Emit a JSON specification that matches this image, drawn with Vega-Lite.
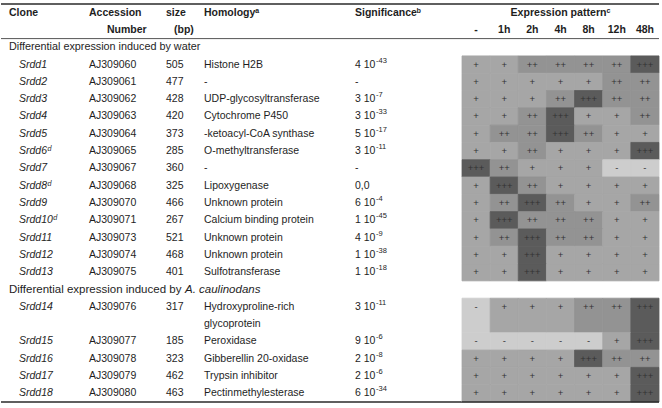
{
  "$schema": "https://vega.github.io/schema/vega-lite/v6.json",
  "background": "white",
  "padding": {"left": 0, "top": 3, "right": 4, "bottom": 6},
  "spacing": 0,
  "bounds": "flush",
  "config": {
    "view": {"stroke": null},
    "font": "Liberation Sans",
    "text": {"font": "Liberation Sans", "fontSize": 10.5, "color": "#1e1e1e", "align": "left", "baseline": "middle"}
  },
  "datasets": {
    "genes": [
      {"id": "Srdd1", "clone": "Srdd1", "acc": "AJ309060", "size": 505, "homology": "Histone H2B", "sig": "4 10", "exp": "-43", "spanTo": "Srdd1", "ctrl": "+", "1h": "+", "2h": "++", "4h": "++", "8h": "++", "12h": "++", "48h": "+++"},
      {"id": "Srdd2", "clone": "Srdd2", "acc": "AJ309061", "size": 477, "homology": "-", "sig": "-", "exp": "", "spanTo": "Srdd2", "ctrl": "+", "1h": "+", "2h": "+", "4h": "+", "8h": "+", "12h": "++", "48h": "++"},
      {"id": "Srdd3", "clone": "Srdd3", "acc": "AJ309062", "size": 428, "homology": "UDP-glycosyltransferase", "sig": "3 10", "exp": "-7", "spanTo": "Srdd3", "ctrl": "+", "1h": "+", "2h": "+", "4h": "++", "8h": "+++", "12h": "++", "48h": "++"},
      {"id": "Srdd4", "clone": "Srdd4", "acc": "AJ309063", "size": 420, "homology": "Cytochrome P450", "sig": "3 10", "exp": "-33", "spanTo": "Srdd4", "ctrl": "+", "1h": "+", "2h": "++", "4h": "+++", "8h": "+", "12h": "+", "48h": "++"},
      {"id": "Srdd5", "clone": "Srdd5", "acc": "AJ309064", "size": 373, "homology": "-ketoacyl-CoA synthase", "sig": "5 10", "exp": "-17", "spanTo": "Srdd5", "ctrl": "+", "1h": "++", "2h": "++", "4h": "+++", "8h": "++", "12h": "+", "48h": "+"},
      {"id": "Srdd6", "clone": "Srdd6ᵈ", "acc": "AJ309065", "size": 285, "homology": "O-methyltransferase", "sig": "3 10", "exp": "-11", "spanTo": "Srdd6", "ctrl": "+", "1h": "+", "2h": "++", "4h": "+", "8h": "+", "12h": "+", "48h": "+++"},
      {"id": "Srdd7", "clone": "Srdd7", "acc": "AJ309067", "size": 360, "homology": "-", "sig": "-", "exp": "", "spanTo": "Srdd7", "ctrl": "+++", "1h": "++", "2h": "+", "4h": "+", "8h": "+", "12h": "-", "48h": "-"},
      {"id": "Srdd8", "clone": "Srdd8ᵈ", "acc": "AJ309068", "size": 325, "homology": "Lipoxygenase", "sig": "0,0", "exp": "", "spanTo": "Srdd8", "ctrl": "+", "1h": "+++", "2h": "++", "4h": "+", "8h": "+", "12h": "+", "48h": "+"},
      {"id": "Srdd9", "clone": "Srdd9", "acc": "AJ309070", "size": 466, "homology": "Unknown protein", "sig": "6 10", "exp": "-4", "spanTo": "Srdd9", "ctrl": "+", "1h": "++", "2h": "+++", "4h": "++", "8h": "+", "12h": "+", "48h": "++"},
      {"id": "Srdd10", "clone": "Srdd10ᵈ", "acc": "AJ309071", "size": 267, "homology": "Calcium binding protein", "sig": "1 10", "exp": "-45", "spanTo": "Srdd10", "ctrl": "+", "1h": "+++", "2h": "++", "4h": "++", "8h": "++", "12h": "+", "48h": "+"},
      {"id": "Srdd11", "clone": "Srdd11", "acc": "AJ309073", "size": 521, "homology": "Unknown protein", "sig": "4 10", "exp": "-9", "spanTo": "Srdd11", "ctrl": "+", "1h": "++", "2h": "+++", "4h": "++", "8h": "++", "12h": "+", "48h": "+"},
      {"id": "Srdd12", "clone": "Srdd12", "acc": "AJ309074", "size": 468, "homology": "Unknown protein", "sig": "1 10", "exp": "-38", "spanTo": "Srdd12", "ctrl": "+", "1h": "+", "2h": "+++", "4h": "+", "8h": "+", "12h": "+", "48h": "+"},
      {"id": "Srdd13", "clone": "Srdd13", "acc": "AJ309075", "size": 401, "homology": "Sulfotransferase", "sig": "1 10", "exp": "-18", "spanTo": "Srdd13", "ctrl": "+", "1h": "+", "2h": "+++", "4h": "+", "8h": "+", "12h": "+", "48h": "+"},
      {"id": "Srdd14", "clone": "Srdd14", "acc": "AJ309076", "size": 317, "homology": "Hydroxyproline-rich", "homology2": "glycoprotein", "sig": "3 10", "exp": "-11", "spanTo": "Srdd14b", "ctrl": "-", "1h": "+", "2h": "+", "4h": "+", "8h": "++", "12h": "++", "48h": "+++"},
      {"id": "Srdd15", "clone": "Srdd15", "acc": "AJ309077", "size": 185, "homology": "Peroxidase", "sig": "9 10", "exp": "-6", "spanTo": "Srdd15", "ctrl": "-", "1h": "-", "2h": "-", "4h": "-", "8h": "-", "12h": "+", "48h": "+++"},
      {"id": "Srdd16", "clone": "Srdd16", "acc": "AJ309078", "size": 323, "homology": "Gibberellin 20-oxidase", "sig": "2 10", "exp": "-8", "spanTo": "Srdd16", "ctrl": "+", "1h": "+", "2h": "+", "4h": "+", "8h": "+++", "12h": "++", "48h": "++"},
      {"id": "Srdd17", "clone": "Srdd17", "acc": "AJ309079", "size": 462, "homology": "Trypsin inhibitor", "sig": "2 10", "exp": "-6", "spanTo": "Srdd17", "ctrl": "+", "1h": "+", "2h": "+", "4h": "+", "8h": "+", "12h": "+", "48h": "+++"},
      {"id": "Srdd18", "clone": "Srdd18", "acc": "AJ309080", "size": 463, "homology": "Pectinmethylesterase", "sig": "6 10", "exp": "-34", "spanTo": "Srdd18", "ctrl": "+", "1h": "+", "2h": "+", "4h": "+", "8h": "+", "12h": "+", "48h": "+++"}
    ],
    "groups": [
      {"line": "g1", "text": "Differential expression induced by water"},
      {"line": "g2", "text": "Differential expression induced by ", "species": "A. caulinodans"}
    ],
    "times": [
      {"time": "ctrl", "label": "-"},
      {"time": "1h", "label": "1h"},
      {"time": "2h", "label": "2h"},
      {"time": "4h", "label": "4h"},
      {"time": "8h", "label": "8h"},
      {"time": "12h", "label": "12h"},
      {"time": "48h", "label": "48h"}
    ]
  },
  "hconcat": [
    {
      "width": 88, "height": 398,
      "layer": [
        {"data": {"values": [{}]}, "mark": {"type": "text", "fontWeight": "bold", "dx": 8},
         "encoding": {"x": {"datum": "c", "type": "nominal", "bandPosition": 0, "scale": {"type": "band", "paddingInner": 0, "paddingOuter": 0}, "axis": null},
                      "y": {"datum": "h1", "type": "nominal", "scale": {"domain": ["h1","h2","g1","Srdd1","Srdd2","Srdd3","Srdd4","Srdd5","Srdd6","Srdd7","Srdd8","Srdd9","Srdd10","Srdd11","Srdd12","Srdd13","g2","Srdd14","Srdd14b","Srdd15","Srdd16","Srdd17","Srdd18"], "type": "band", "paddingInner": 0, "paddingOuter": 0}, "axis": null},
                      "text": {"value": "Clone"}}},
        {"data": {"name": "groups"}, "transform": [{"filter": "datum.line === 'g1'"}], "mark": {"type": "text", "dx": 8, "fontSize": 10.8},
         "encoding": {"x": {"datum": "c", "type": "nominal", "bandPosition": 0, "scale": {"type": "band", "paddingInner": 0, "paddingOuter": 0}, "axis": null},
                      "y": {"field": "line", "type": "nominal", "scale": {"domain": ["h1","h2","g1","Srdd1","Srdd2","Srdd3","Srdd4","Srdd5","Srdd6","Srdd7","Srdd8","Srdd9","Srdd10","Srdd11","Srdd12","Srdd13","g2","Srdd14","Srdd14b","Srdd15","Srdd16","Srdd17","Srdd18"], "type": "band", "paddingInner": 0, "paddingOuter": 0}, "axis": null},
                      "text": {"field": "text"}}},
        {"data": {"name": "groups"}, "transform": [{"filter": "datum.line === 'g2'"}], "mark": {"type": "text", "dx": 8, "fontSize": 11.5},
         "encoding": {"x": {"datum": "c", "type": "nominal", "bandPosition": 0, "scale": {"type": "band", "paddingInner": 0, "paddingOuter": 0}, "axis": null},
                      "y": {"field": "line", "type": "nominal", "scale": {"domain": ["h1","h2","g1","Srdd1","Srdd2","Srdd3","Srdd4","Srdd5","Srdd6","Srdd7","Srdd8","Srdd9","Srdd10","Srdd11","Srdd12","Srdd13","g2","Srdd14","Srdd14b","Srdd15","Srdd16","Srdd17","Srdd18"], "type": "band", "paddingInner": 0, "paddingOuter": 0}, "axis": null},
                      "text": {"field": "text"}}},
        {"data": {"name": "groups"}, "transform": [{"filter": "datum.line === 'g2'"}], "mark": {"type": "text", "dx": 184, "fontSize": 11.5, "fontStyle": "italic"},
         "encoding": {"x": {"datum": "c", "type": "nominal", "bandPosition": 0, "scale": {"type": "band", "paddingInner": 0, "paddingOuter": 0}, "axis": null},
                      "y": {"field": "line", "type": "nominal", "scale": {"domain": ["h1","h2","g1","Srdd1","Srdd2","Srdd3","Srdd4","Srdd5","Srdd6","Srdd7","Srdd8","Srdd9","Srdd10","Srdd11","Srdd12","Srdd13","g2","Srdd14","Srdd14b","Srdd15","Srdd16","Srdd17","Srdd18"], "type": "band", "paddingInner": 0, "paddingOuter": 0}, "axis": null},
                      "text": {"field": "species"}}},
        {"data": {"name": "genes"}, "mark": {"type": "text", "dx": 18, "fontStyle": "italic"},
         "encoding": {"x": {"datum": "c", "type": "nominal", "bandPosition": 0, "scale": {"type": "band", "paddingInner": 0, "paddingOuter": 0}, "axis": null},
                      "y": {"field": "id", "type": "nominal", "scale": {"domain": ["h1","h2","g1","Srdd1","Srdd2","Srdd3","Srdd4","Srdd5","Srdd6","Srdd7","Srdd8","Srdd9","Srdd10","Srdd11","Srdd12","Srdd13","g2","Srdd14","Srdd14b","Srdd15","Srdd16","Srdd17","Srdd18"], "type": "band", "paddingInner": 0, "paddingOuter": 0}, "axis": null},
                      "text": {"field": "clone"}}},
        {"data": {"values": [{}]}, "mark": {"type": "rule", "color": "#2a2a2a", "strokeWidth": 1.6},
         "encoding": {"y": {"datum": "h1", "type": "nominal", "bandPosition": 0, "scale": {"domain": ["h1","h2","g1","Srdd1","Srdd2","Srdd3","Srdd4","Srdd5","Srdd6","Srdd7","Srdd8","Srdd9","Srdd10","Srdd11","Srdd12","Srdd13","g2","Srdd14","Srdd14b","Srdd15","Srdd16","Srdd17","Srdd18"], "type": "band", "paddingInner": 0, "paddingOuter": 0}, "axis": null}}},
        {"data": {"values": [{}]}, "mark": {"type": "rule", "color": "#555555", "strokeWidth": 1},
         "encoding": {"y": {"datum": "g1", "type": "nominal", "bandPosition": 0, "scale": {"domain": ["h1","h2","g1","Srdd1","Srdd2","Srdd3","Srdd4","Srdd5","Srdd6","Srdd7","Srdd8","Srdd9","Srdd10","Srdd11","Srdd12","Srdd13","g2","Srdd14","Srdd14b","Srdd15","Srdd16","Srdd17","Srdd18"], "type": "band", "paddingInner": 0, "paddingOuter": 0}, "axis": null}}},
        {"data": {"values": [{}]}, "mark": {"type": "rule", "color": "#2a2a2a", "strokeWidth": 1.6},
         "encoding": {"y": {"datum": "Srdd18", "type": "nominal", "bandPosition": 1, "scale": {"domain": ["h1","h2","g1","Srdd1","Srdd2","Srdd3","Srdd4","Srdd5","Srdd6","Srdd7","Srdd8","Srdd9","Srdd10","Srdd11","Srdd12","Srdd13","g2","Srdd14","Srdd14b","Srdd15","Srdd16","Srdd17","Srdd18"], "type": "band", "paddingInner": 0, "paddingOuter": 0}, "axis": null}}}
      ]
    },
    {
      "width": 77, "height": 398,
      "layer": [
        {"data": {"values": [{}]}, "mark": {"type": "text", "fontWeight": "bold"},
         "encoding": {"x": {"datum": "c", "type": "nominal", "bandPosition": 0, "scale": {"type": "band", "paddingInner": 0, "paddingOuter": 0}, "axis": null},
                      "y": {"datum": "h1", "type": "nominal", "scale": {"domain": ["h1","h2","g1","Srdd1","Srdd2","Srdd3","Srdd4","Srdd5","Srdd6","Srdd7","Srdd8","Srdd9","Srdd10","Srdd11","Srdd12","Srdd13","g2","Srdd14","Srdd14b","Srdd15","Srdd16","Srdd17","Srdd18"], "type": "band", "paddingInner": 0, "paddingOuter": 0}, "axis": null},
                      "text": {"value": "Accession"}}},
        {"data": {"values": [{}]}, "mark": {"type": "text", "fontWeight": "bold", "dx": 18},
         "encoding": {"x": {"datum": "c", "type": "nominal", "bandPosition": 0, "scale": {"type": "band", "paddingInner": 0, "paddingOuter": 0}, "axis": null},
                      "y": {"datum": "h2", "type": "nominal", "scale": {"domain": ["h1","h2","g1","Srdd1","Srdd2","Srdd3","Srdd4","Srdd5","Srdd6","Srdd7","Srdd8","Srdd9","Srdd10","Srdd11","Srdd12","Srdd13","g2","Srdd14","Srdd14b","Srdd15","Srdd16","Srdd17","Srdd18"], "type": "band", "paddingInner": 0, "paddingOuter": 0}, "axis": null},
                      "text": {"value": "Number"}}},
        {"data": {"name": "genes"}, "mark": {"type": "text"},
         "encoding": {"x": {"datum": "c", "type": "nominal", "bandPosition": 0, "scale": {"type": "band", "paddingInner": 0, "paddingOuter": 0}, "axis": null},
                      "y": {"field": "id", "type": "nominal", "scale": {"domain": ["h1","h2","g1","Srdd1","Srdd2","Srdd3","Srdd4","Srdd5","Srdd6","Srdd7","Srdd8","Srdd9","Srdd10","Srdd11","Srdd12","Srdd13","g2","Srdd14","Srdd14b","Srdd15","Srdd16","Srdd17","Srdd18"], "type": "band", "paddingInner": 0, "paddingOuter": 0}, "axis": null},
                      "text": {"field": "acc"}}},
        {"data": {"values": [{}]}, "mark": {"type": "rule", "color": "#2a2a2a", "strokeWidth": 1.6},
         "encoding": {"y": {"datum": "h1", "type": "nominal", "bandPosition": 0, "scale": {"domain": ["h1","h2","g1","Srdd1","Srdd2","Srdd3","Srdd4","Srdd5","Srdd6","Srdd7","Srdd8","Srdd9","Srdd10","Srdd11","Srdd12","Srdd13","g2","Srdd14","Srdd14b","Srdd15","Srdd16","Srdd17","Srdd18"], "type": "band", "paddingInner": 0, "paddingOuter": 0}, "axis": null}}},
        {"data": {"values": [{}]}, "mark": {"type": "rule", "color": "#555555", "strokeWidth": 1},
         "encoding": {"y": {"datum": "g1", "type": "nominal", "bandPosition": 0, "scale": {"domain": ["h1","h2","g1","Srdd1","Srdd2","Srdd3","Srdd4","Srdd5","Srdd6","Srdd7","Srdd8","Srdd9","Srdd10","Srdd11","Srdd12","Srdd13","g2","Srdd14","Srdd14b","Srdd15","Srdd16","Srdd17","Srdd18"], "type": "band", "paddingInner": 0, "paddingOuter": 0}, "axis": null}}},
        {"data": {"values": [{}]}, "mark": {"type": "rule", "color": "#2a2a2a", "strokeWidth": 1.6},
         "encoding": {"y": {"datum": "Srdd18", "type": "nominal", "bandPosition": 1, "scale": {"domain": ["h1","h2","g1","Srdd1","Srdd2","Srdd3","Srdd4","Srdd5","Srdd6","Srdd7","Srdd8","Srdd9","Srdd10","Srdd11","Srdd12","Srdd13","g2","Srdd14","Srdd14b","Srdd15","Srdd16","Srdd17","Srdd18"], "type": "band", "paddingInner": 0, "paddingOuter": 0}, "axis": null}}}
      ]
    },
    {
      "width": 38, "height": 398,
      "layer": [
        {"data": {"values": [{}]}, "mark": {"type": "text", "fontWeight": "bold"},
         "encoding": {"x": {"datum": "c", "type": "nominal", "bandPosition": 0, "scale": {"type": "band", "paddingInner": 0, "paddingOuter": 0}, "axis": null},
                      "y": {"datum": "h1", "type": "nominal", "scale": {"domain": ["h1","h2","g1","Srdd1","Srdd2","Srdd3","Srdd4","Srdd5","Srdd6","Srdd7","Srdd8","Srdd9","Srdd10","Srdd11","Srdd12","Srdd13","g2","Srdd14","Srdd14b","Srdd15","Srdd16","Srdd17","Srdd18"], "type": "band", "paddingInner": 0, "paddingOuter": 0}, "axis": null},
                      "text": {"value": "size"}}},
        {"data": {"values": [{}]}, "mark": {"type": "text", "fontWeight": "bold", "dx": 8},
         "encoding": {"x": {"datum": "c", "type": "nominal", "bandPosition": 0, "scale": {"type": "band", "paddingInner": 0, "paddingOuter": 0}, "axis": null},
                      "y": {"datum": "h2", "type": "nominal", "scale": {"domain": ["h1","h2","g1","Srdd1","Srdd2","Srdd3","Srdd4","Srdd5","Srdd6","Srdd7","Srdd8","Srdd9","Srdd10","Srdd11","Srdd12","Srdd13","g2","Srdd14","Srdd14b","Srdd15","Srdd16","Srdd17","Srdd18"], "type": "band", "paddingInner": 0, "paddingOuter": 0}, "axis": null},
                      "text": {"value": "(bp)"}}},
        {"data": {"name": "genes"}, "mark": {"type": "text"},
         "encoding": {"x": {"datum": "c", "type": "nominal", "bandPosition": 0, "scale": {"type": "band", "paddingInner": 0, "paddingOuter": 0}, "axis": null},
                      "y": {"field": "id", "type": "nominal", "scale": {"domain": ["h1","h2","g1","Srdd1","Srdd2","Srdd3","Srdd4","Srdd5","Srdd6","Srdd7","Srdd8","Srdd9","Srdd10","Srdd11","Srdd12","Srdd13","g2","Srdd14","Srdd14b","Srdd15","Srdd16","Srdd17","Srdd18"], "type": "band", "paddingInner": 0, "paddingOuter": 0}, "axis": null},
                      "text": {"field": "size"}}},
        {"data": {"values": [{}]}, "mark": {"type": "rule", "color": "#2a2a2a", "strokeWidth": 1.6},
         "encoding": {"y": {"datum": "h1", "type": "nominal", "bandPosition": 0, "scale": {"domain": ["h1","h2","g1","Srdd1","Srdd2","Srdd3","Srdd4","Srdd5","Srdd6","Srdd7","Srdd8","Srdd9","Srdd10","Srdd11","Srdd12","Srdd13","g2","Srdd14","Srdd14b","Srdd15","Srdd16","Srdd17","Srdd18"], "type": "band", "paddingInner": 0, "paddingOuter": 0}, "axis": null}}},
        {"data": {"values": [{}]}, "mark": {"type": "rule", "color": "#555555", "strokeWidth": 1},
         "encoding": {"y": {"datum": "g1", "type": "nominal", "bandPosition": 0, "scale": {"domain": ["h1","h2","g1","Srdd1","Srdd2","Srdd3","Srdd4","Srdd5","Srdd6","Srdd7","Srdd8","Srdd9","Srdd10","Srdd11","Srdd12","Srdd13","g2","Srdd14","Srdd14b","Srdd15","Srdd16","Srdd17","Srdd18"], "type": "band", "paddingInner": 0, "paddingOuter": 0}, "axis": null}}},
        {"data": {"values": [{}]}, "mark": {"type": "rule", "color": "#2a2a2a", "strokeWidth": 1.6},
         "encoding": {"y": {"datum": "Srdd18", "type": "nominal", "bandPosition": 1, "scale": {"domain": ["h1","h2","g1","Srdd1","Srdd2","Srdd3","Srdd4","Srdd5","Srdd6","Srdd7","Srdd8","Srdd9","Srdd10","Srdd11","Srdd12","Srdd13","g2","Srdd14","Srdd14b","Srdd15","Srdd16","Srdd17","Srdd18"], "type": "band", "paddingInner": 0, "paddingOuter": 0}, "axis": null}}}
      ]
    },
    {
      "width": 151, "height": 398,
      "layer": [
        {"data": {"values": [{}]}, "mark": {"type": "text", "fontWeight": "bold"},
         "encoding": {"x": {"datum": "c", "type": "nominal", "bandPosition": 0, "scale": {"type": "band", "paddingInner": 0, "paddingOuter": 0}, "axis": null},
                      "y": {"datum": "h1", "type": "nominal", "scale": {"domain": ["h1","h2","g1","Srdd1","Srdd2","Srdd3","Srdd4","Srdd5","Srdd6","Srdd7","Srdd8","Srdd9","Srdd10","Srdd11","Srdd12","Srdd13","g2","Srdd14","Srdd14b","Srdd15","Srdd16","Srdd17","Srdd18"], "type": "band", "paddingInner": 0, "paddingOuter": 0}, "axis": null},
                      "text": {"value": "Homologyᵃ"}}},
        {"data": {"name": "genes"}, "mark": {"type": "text"},
         "encoding": {"x": {"datum": "c", "type": "nominal", "bandPosition": 0, "scale": {"type": "band", "paddingInner": 0, "paddingOuter": 0}, "axis": null},
                      "y": {"field": "id", "type": "nominal", "scale": {"domain": ["h1","h2","g1","Srdd1","Srdd2","Srdd3","Srdd4","Srdd5","Srdd6","Srdd7","Srdd8","Srdd9","Srdd10","Srdd11","Srdd12","Srdd13","g2","Srdd14","Srdd14b","Srdd15","Srdd16","Srdd17","Srdd18"], "type": "band", "paddingInner": 0, "paddingOuter": 0}, "axis": null},
                      "text": {"field": "homology"}}},
        {"data": {"name": "genes"}, "transform": [{"filter": "isValid(datum.homology2)"}], "mark": {"type": "text"},
         "encoding": {"x": {"datum": "c", "type": "nominal", "bandPosition": 0, "scale": {"type": "band", "paddingInner": 0, "paddingOuter": 0}, "axis": null},
                      "y": {"field": "spanTo", "type": "nominal", "scale": {"domain": ["h1","h2","g1","Srdd1","Srdd2","Srdd3","Srdd4","Srdd5","Srdd6","Srdd7","Srdd8","Srdd9","Srdd10","Srdd11","Srdd12","Srdd13","g2","Srdd14","Srdd14b","Srdd15","Srdd16","Srdd17","Srdd18"], "type": "band", "paddingInner": 0, "paddingOuter": 0}, "axis": null},
                      "text": {"field": "homology2"}}},
        {"data": {"values": [{}]}, "mark": {"type": "rule", "color": "#2a2a2a", "strokeWidth": 1.6},
         "encoding": {"y": {"datum": "h1", "type": "nominal", "bandPosition": 0, "scale": {"domain": ["h1","h2","g1","Srdd1","Srdd2","Srdd3","Srdd4","Srdd5","Srdd6","Srdd7","Srdd8","Srdd9","Srdd10","Srdd11","Srdd12","Srdd13","g2","Srdd14","Srdd14b","Srdd15","Srdd16","Srdd17","Srdd18"], "type": "band", "paddingInner": 0, "paddingOuter": 0}, "axis": null}}},
        {"data": {"values": [{}]}, "mark": {"type": "rule", "color": "#555555", "strokeWidth": 1},
         "encoding": {"y": {"datum": "g1", "type": "nominal", "bandPosition": 0, "scale": {"domain": ["h1","h2","g1","Srdd1","Srdd2","Srdd3","Srdd4","Srdd5","Srdd6","Srdd7","Srdd8","Srdd9","Srdd10","Srdd11","Srdd12","Srdd13","g2","Srdd14","Srdd14b","Srdd15","Srdd16","Srdd17","Srdd18"], "type": "band", "paddingInner": 0, "paddingOuter": 0}, "axis": null}}},
        {"data": {"values": [{}]}, "mark": {"type": "rule", "color": "#2a2a2a", "strokeWidth": 1.6},
         "encoding": {"y": {"datum": "Srdd18", "type": "nominal", "bandPosition": 1, "scale": {"domain": ["h1","h2","g1","Srdd1","Srdd2","Srdd3","Srdd4","Srdd5","Srdd6","Srdd7","Srdd8","Srdd9","Srdd10","Srdd11","Srdd12","Srdd13","g2","Srdd14","Srdd14b","Srdd15","Srdd16","Srdd17","Srdd18"], "type": "band", "paddingInner": 0, "paddingOuter": 0}, "axis": null}}}
      ]
    },
    {
      "width": 107, "height": 398,
      "layer": [
        {"data": {"values": [{}]}, "mark": {"type": "text", "fontWeight": "bold"},
         "encoding": {"x": {"datum": "c", "type": "nominal", "bandPosition": 0, "scale": {"type": "band", "paddingInner": 0, "paddingOuter": 0}, "axis": null},
                      "y": {"datum": "h1", "type": "nominal", "scale": {"domain": ["h1","h2","g1","Srdd1","Srdd2","Srdd3","Srdd4","Srdd5","Srdd6","Srdd7","Srdd8","Srdd9","Srdd10","Srdd11","Srdd12","Srdd13","g2","Srdd14","Srdd14b","Srdd15","Srdd16","Srdd17","Srdd18"], "type": "band", "paddingInner": 0, "paddingOuter": 0}, "axis": null},
                      "text": {"value": "Significanceᵇ"}}},
        {"data": {"name": "genes"}, "mark": {"type": "text"},
         "encoding": {"x": {"datum": "c", "type": "nominal", "bandPosition": 0, "scale": {"type": "band", "paddingInner": 0, "paddingOuter": 0}, "axis": null},
                      "y": {"field": "id", "type": "nominal", "scale": {"domain": ["h1","h2","g1","Srdd1","Srdd2","Srdd3","Srdd4","Srdd5","Srdd6","Srdd7","Srdd8","Srdd9","Srdd10","Srdd11","Srdd12","Srdd13","g2","Srdd14","Srdd14b","Srdd15","Srdd16","Srdd17","Srdd18"], "type": "band", "paddingInner": 0, "paddingOuter": 0}, "axis": null},
                      "text": {"field": "sig"}}},
        {"data": {"name": "genes"}, "mark": {"type": "text", "dx": 21, "dy": -4, "fontSize": 7.5},
         "encoding": {"x": {"datum": "c", "type": "nominal", "bandPosition": 0, "scale": {"type": "band", "paddingInner": 0, "paddingOuter": 0}, "axis": null},
                      "y": {"field": "id", "type": "nominal", "scale": {"domain": ["h1","h2","g1","Srdd1","Srdd2","Srdd3","Srdd4","Srdd5","Srdd6","Srdd7","Srdd8","Srdd9","Srdd10","Srdd11","Srdd12","Srdd13","g2","Srdd14","Srdd14b","Srdd15","Srdd16","Srdd17","Srdd18"], "type": "band", "paddingInner": 0, "paddingOuter": 0}, "axis": null},
                      "text": {"field": "exp"}}},
        {"data": {"values": [{}]}, "mark": {"type": "rule", "color": "#2a2a2a", "strokeWidth": 1.6},
         "encoding": {"y": {"datum": "h1", "type": "nominal", "bandPosition": 0, "scale": {"domain": ["h1","h2","g1","Srdd1","Srdd2","Srdd3","Srdd4","Srdd5","Srdd6","Srdd7","Srdd8","Srdd9","Srdd10","Srdd11","Srdd12","Srdd13","g2","Srdd14","Srdd14b","Srdd15","Srdd16","Srdd17","Srdd18"], "type": "band", "paddingInner": 0, "paddingOuter": 0}, "axis": null}}},
        {"data": {"values": [{}]}, "mark": {"type": "rule", "color": "#555555", "strokeWidth": 1},
         "encoding": {"y": {"datum": "g1", "type": "nominal", "bandPosition": 0, "scale": {"domain": ["h1","h2","g1","Srdd1","Srdd2","Srdd3","Srdd4","Srdd5","Srdd6","Srdd7","Srdd8","Srdd9","Srdd10","Srdd11","Srdd12","Srdd13","g2","Srdd14","Srdd14b","Srdd15","Srdd16","Srdd17","Srdd18"], "type": "band", "paddingInner": 0, "paddingOuter": 0}, "axis": null}}},
        {"data": {"values": [{}]}, "mark": {"type": "rule", "color": "#2a2a2a", "strokeWidth": 1.6},
         "encoding": {"y": {"datum": "Srdd18", "type": "nominal", "bandPosition": 1, "scale": {"domain": ["h1","h2","g1","Srdd1","Srdd2","Srdd3","Srdd4","Srdd5","Srdd6","Srdd7","Srdd8","Srdd9","Srdd10","Srdd11","Srdd12","Srdd13","g2","Srdd14","Srdd14b","Srdd15","Srdd16","Srdd17","Srdd18"], "type": "band", "paddingInner": 0, "paddingOuter": 0}, "axis": null}}}
      ]
    },
    {
      "width": 197, "height": 398,
      "layer": [
        {"data": {"name": "genes"},
         "transform": [{"fold": ["ctrl", "1h", "2h", "4h", "8h", "12h", "48h"], "as": ["time", "level"]}],
         "mark": {"type": "rect", "strokeWidth": 0.8},
         "encoding": {"x": {"field": "time", "type": "nominal", "scale": {"type": "band", "domain": ["ctrl", "1h", "2h", "4h", "8h", "12h", "48h"], "paddingInner": 0, "paddingOuter": 0}, "axis": null},
                      "y": {"field": "id", "type": "nominal", "bandPosition": 0, "scale": {"domain": ["h1","h2","g1","Srdd1","Srdd2","Srdd3","Srdd4","Srdd5","Srdd6","Srdd7","Srdd8","Srdd9","Srdd10","Srdd11","Srdd12","Srdd13","g2","Srdd14","Srdd14b","Srdd15","Srdd16","Srdd17","Srdd18"], "type": "band", "paddingInner": 0, "paddingOuter": 0}, "axis": null},
                      "y2": {"field": "spanTo", "bandPosition": 1},
                      "color": {"field": "level", "type": "nominal", "scale": {"domain": ["-", "+", "++", "+++"], "range": ["#cdcdcd", "#a6a6a6", "#939393", "#5b5b5b"]}, "legend": null},
                      "stroke": {"field": "level", "type": "nominal", "scale": {"domain": ["-", "+", "++", "+++"], "range": ["#cdcdcd", "#a6a6a6", "#939393", "#5b5b5b"]}, "legend": null}}},
        {"data": {"name": "genes"},
         "transform": [{"fold": ["ctrl", "1h", "2h", "4h", "8h", "12h", "48h"], "as": ["time", "level"]}],
         "mark": {"type": "text", "align": "center", "fontSize": 9.5, "color": "#333333"},
         "encoding": {"x": {"field": "time", "type": "nominal", "scale": {"type": "band", "domain": ["ctrl", "1h", "2h", "4h", "8h", "12h", "48h"], "paddingInner": 0, "paddingOuter": 0}, "axis": null},
                      "y": {"field": "id", "type": "nominal", "scale": {"domain": ["h1","h2","g1","Srdd1","Srdd2","Srdd3","Srdd4","Srdd5","Srdd6","Srdd7","Srdd8","Srdd9","Srdd10","Srdd11","Srdd12","Srdd13","g2","Srdd14","Srdd14b","Srdd15","Srdd16","Srdd17","Srdd18"], "type": "band", "paddingInner": 0, "paddingOuter": 0}, "axis": null},
                      "text": {"field": "level"}}},
        {"data": {"values": [{}]}, "mark": {"type": "text", "fontWeight": "bold", "align": "center", "fontSize": 10.6},
         "encoding": {"y": {"datum": "h1", "type": "nominal", "scale": {"domain": ["h1","h2","g1","Srdd1","Srdd2","Srdd3","Srdd4","Srdd5","Srdd6","Srdd7","Srdd8","Srdd9","Srdd10","Srdd11","Srdd12","Srdd13","g2","Srdd14","Srdd14b","Srdd15","Srdd16","Srdd17","Srdd18"], "type": "band", "paddingInner": 0, "paddingOuter": 0}, "axis": null},
                      "text": {"value": "Expression patternᶜ"}}},
        {"data": {"name": "times"}, "mark": {"type": "text", "fontWeight": "bold", "align": "center"},
         "encoding": {"x": {"field": "time", "type": "nominal", "scale": {"type": "band", "domain": ["ctrl", "1h", "2h", "4h", "8h", "12h", "48h"], "paddingInner": 0, "paddingOuter": 0}, "axis": null},
                      "y": {"datum": "h2", "type": "nominal", "scale": {"domain": ["h1","h2","g1","Srdd1","Srdd2","Srdd3","Srdd4","Srdd5","Srdd6","Srdd7","Srdd8","Srdd9","Srdd10","Srdd11","Srdd12","Srdd13","g2","Srdd14","Srdd14b","Srdd15","Srdd16","Srdd17","Srdd18"], "type": "band", "paddingInner": 0, "paddingOuter": 0}, "axis": null},
                      "text": {"field": "label"}}},
        {"data": {"values": [{}]}, "mark": {"type": "rule", "color": "#2a2a2a", "strokeWidth": 1.6},
         "encoding": {"y": {"datum": "h1", "type": "nominal", "bandPosition": 0, "scale": {"domain": ["h1","h2","g1","Srdd1","Srdd2","Srdd3","Srdd4","Srdd5","Srdd6","Srdd7","Srdd8","Srdd9","Srdd10","Srdd11","Srdd12","Srdd13","g2","Srdd14","Srdd14b","Srdd15","Srdd16","Srdd17","Srdd18"], "type": "band", "paddingInner": 0, "paddingOuter": 0}, "axis": null}}},
        {"data": {"values": [{}]}, "mark": {"type": "rule", "color": "#555555", "strokeWidth": 1},
         "encoding": {"y": {"datum": "g1", "type": "nominal", "bandPosition": 0, "scale": {"domain": ["h1","h2","g1","Srdd1","Srdd2","Srdd3","Srdd4","Srdd5","Srdd6","Srdd7","Srdd8","Srdd9","Srdd10","Srdd11","Srdd12","Srdd13","g2","Srdd14","Srdd14b","Srdd15","Srdd16","Srdd17","Srdd18"], "type": "band", "paddingInner": 0, "paddingOuter": 0}, "axis": null}}},
        {"data": {"values": [{}]}, "mark": {"type": "rule", "color": "#2a2a2a", "strokeWidth": 1.6},
         "encoding": {"y": {"datum": "Srdd18", "type": "nominal", "bandPosition": 1, "scale": {"domain": ["h1","h2","g1","Srdd1","Srdd2","Srdd3","Srdd4","Srdd5","Srdd6","Srdd7","Srdd8","Srdd9","Srdd10","Srdd11","Srdd12","Srdd13","g2","Srdd14","Srdd14b","Srdd15","Srdd16","Srdd17","Srdd18"], "type": "band", "paddingInner": 0, "paddingOuter": 0}, "axis": null}}}
      ]
    }
  ]
}
